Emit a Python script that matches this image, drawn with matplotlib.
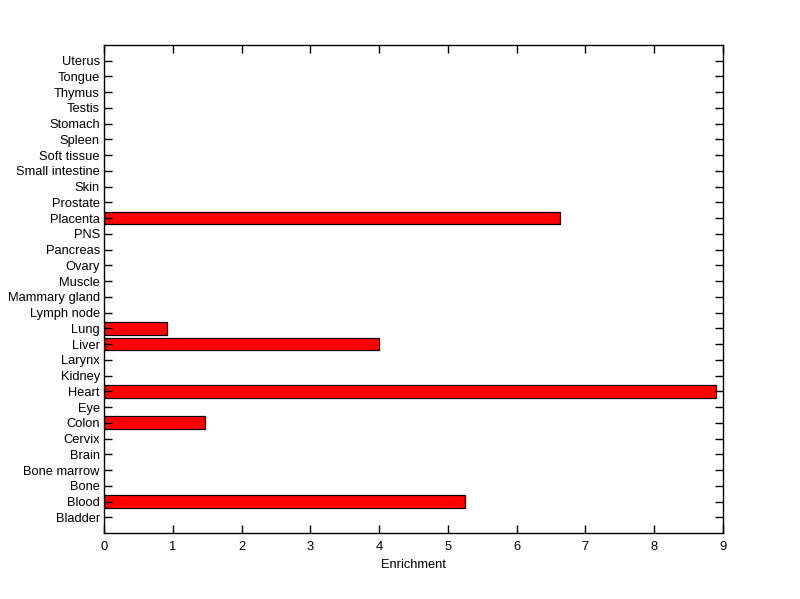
import matplotlib
matplotlib.use('Agg')
import matplotlib.pyplot as plt
import numpy as np

plt.rc('font', family=['Liberation Sans', 'DejaVu Sans'])

tissues = ['Bladder', 'Blood', 'Bone', 'Bone marrow', 'Brain', 'Cervix', 'Colon',
           'Eye', 'Heart', 'Kidney', 'Larynx', 'Liver', 'Lung', 'Lymph node',
           'Mammary gland', 'Muscle', 'Ovary', 'Pancreas', 'PNS', 'Placenta',
           'Prostate', 'Skin', 'Small intestine', 'Soft tissue', 'Spleen',
           'Stomach', 'Testis', 'Thymus', 'Tongue', 'Uterus']
enrichment = [0, 5.25, 0, 0, 0, 0, 1.47,
              0, 8.90, 0, 0, 4.0, 0.92, 0,
              0, 0, 0, 0, 0, 6.63,
              0, 0, 0, 0, 0,
              0, 0, 0, 0, 0]

fig = plt.figure(figsize=(8, 5.99), dpi=100)
ax = fig.add_axes([0.13, 0.1102, 0.77375, 0.8147])

pos = np.arange(1, len(tissues) + 1)
vals = np.array(enrichment)
shown = vals > 0
ax.barh(pos[shown], vals[shown], height=0.8, color='#ff0000', edgecolor='black', linewidth=0.9)

ax.set_xlim(0, 9)
ax.set_ylim(0, len(tissues) + 1)
ax.set_xticks(range(0, 10))
ax.set_yticks(pos)
ax.set_yticklabels(tissues)
ax.tick_params(direction='in', length=6, width=1, labelsize=9.3, top=True, right=True)
ax.tick_params(axis='y', pad=3)
ax.tick_params(axis='x', pad=6)
ax.set_xlabel('Enrichment', fontsize=9.3, labelpad=4)
for s in ax.spines.values():
    s.set_linewidth(1)

fig.savefig('out.png', dpi=100)
